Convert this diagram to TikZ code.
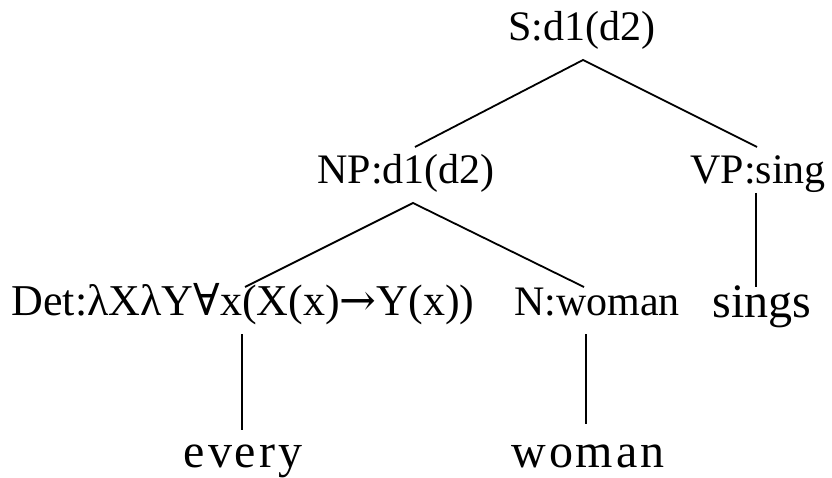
\documentclass[tikz,border=0pt]{standalone}
\usepackage{fontspec}
\setmainfont{Liberation Serif}
\newfontfamily\symfnt{DejaVu Serif}
\newfontfamily\widefnt[LetterSpace=6]{Liberation Serif}
\begin{document}
\begin{tikzpicture}[x=1pt,y=-1pt,
  lab/.style={inner sep=0pt, anchor=base, font=\fontsize{42}{48}\selectfont},
  word/.style={inner sep=0pt, anchor=base, font=\fontsize{48}{54}\selectfont},
  edge/.style={line width=1.8pt, black}]
\useasboundingbox (0,0) rectangle (832,478);
% text nodes
\node[lab] (S)   at (582,41)  {S:d1(d2)};
\node[lab] (NP)  at (406,184) {NP:d1(d2)};
\node[lab] (VP)  at (758,184) {VP:sing};
\node[lab, font=\fontsize{44}{50}\selectfont] (Det) at (243,315) {Det:λXλY{\symfnt ∀}x(X(x){\symfnt →}Y(x))};
\node[lab] (N)   at (597,315) {N:woman};
\node[word] (V)  at (762,317) {sings};
\node[word] (W1) at (243,467) {\widefnt every};
\node[word] (W2) at (588,467) {\widefnt woman};
% attachment points
\coordinate (Sb)   at (583,60);
\coordinate (NPt)  at (415,147);
\coordinate (VPt)  at (757,147);
\coordinate (NPb)  at (413,203);
\coordinate (Dett) at (245,287);
\coordinate (Nt)   at (584,287);
\coordinate (VPb)  at (756,193);
\coordinate (Vt)   at (756,287);
\coordinate (Detb) at (242,334);
\coordinate (W1t)  at (242,430);
\coordinate (Nb)   at (586,334);
\coordinate (W2t)  at (586,424);
% connectors
\draw[edge] (NPt) -- (Sb) -- (VPt);
\draw[edge] (Dett) -- (NPb) -- (Nt);
\draw[edge] (VPb) -- (Vt);
\draw[edge] (Detb) -- (W1t);
\draw[edge] (Nb) -- (W2t);
\end{tikzpicture}
\end{document}
